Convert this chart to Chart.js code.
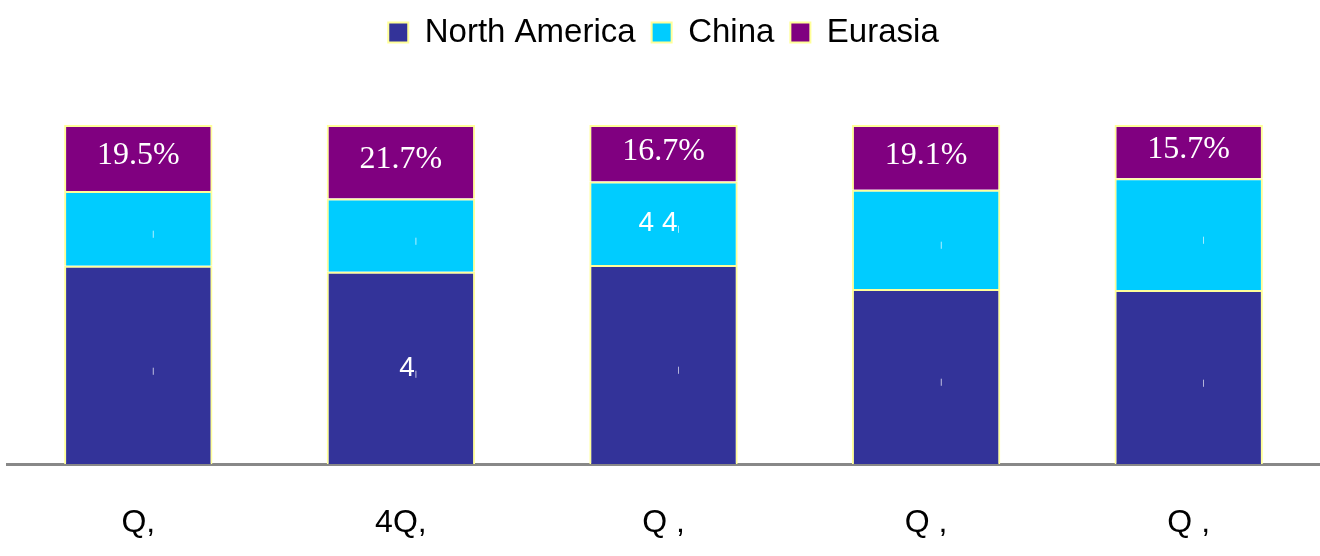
<!DOCTYPE html>
<html>
<head>
<meta charset="utf-8">
<script src="https://cdn.jsdelivr.net/npm/chart.js@4.4.1/dist/chart.umd.min.js"></script>
<style>
  html, body { margin: 0; padding: 0; background: #fff; }
  #wrap { width: 1320px; height: 556px; }
</style>
</head>
<body>
<div id="wrap"><canvas id="chart"></canvas></div>
<script>
// categories and values (share of total, %)
var quarters = ['Q,', '4Q,', 'Q ,', 'Q ,', 'Q ,'];
var northAmerica = [58.5, 56.7, 58.7, 51.6, 51.3];
var china = [22.0, 21.6, 24.6, 29.3, 33.0];
var eurasia = [19.5, 21.7, 16.7, 19.1, 15.7];

// text shown inside the segments
var eurasiaText = ['19.5%', '21.7%', '16.7%', '19.1%', '15.7%'];
var chinaText = ['', '', '4 4', '', ''];
var naText = ['', '4', '', '', ''];

var segBorder = '#FFFF99';

var segLabels = {
    id: 'segLabels',
    afterDatasetsDraw: function(chart) {
        var ctx = chart.ctx;
        chart.data.datasets.forEach(function(ds, i) {
            var meta = chart.getDatasetMeta(i);
            meta.data.forEach(function(bar, j) {
                var mid = (bar.y + bar.base) / 2;
                ctx.save();
                ctx.fillStyle = '#fff';
                if (ds.kind === 'pct') {
                    ctx.font = '32px "Liberation Serif", "Times New Roman", serif';
                    ctx.textAlign = 'center';
                    ctx.textBaseline = 'middle';
                    ctx.fillText(ds.texts[j], bar.x, mid - 2);
                } else {
                    // leftover glyph fragments
                    if (ds.texts[j]) {
                        ctx.font = '28px "Liberation Sans", Arial, sans-serif';
                        ctx.textAlign = 'right';
                        ctx.textBaseline = 'alphabetic';
                        ctx.fillText(ds.texts[j], bar.x + 14, mid + 8);
                    }
                    ctx.font = '7px "DejaVu Sans", sans-serif';
                    ctx.textAlign = 'center';
                    ctx.textBaseline = 'middle';
                    ctx.fillText('|', bar.x + 15, mid + 6);
                }
                ctx.restore();
            });
        });
    }
};

// legend needs to take up the space above the bars
var legendSpace = {
    id: 'legendSpace',
    beforeInit: function(chart) {
        var fit = chart.legend.fit;
        chart.legend.fit = function() {
            fit.call(this);
            this.height = 125;
        };
    }
};

new Chart(document.getElementById('chart'), {
    type: 'bar',
    data: {
        labels: quarters,
        datasets: [
            { label: 'North America', data: northAmerica, backgroundColor: '#333399', borderColor: segBorder, borderWidth: 2, kind: 'frag', texts: naText },
            { label: 'China', data: china, backgroundColor: '#00CCFF', borderColor: segBorder, borderWidth: 2, kind: 'frag', texts: chinaText },
            { label: 'Eurasia', data: eurasia, backgroundColor: '#800080', borderColor: segBorder, borderWidth: 2, kind: 'pct', texts: eurasiaText }
        ]
    },
    options: {
        responsive: true,
        maintainAspectRatio: false,
        animation: false,
        layout: { padding: { left: 7, right: 0, top: 0, bottom: 0 } },
        datasets: { bar: { categoryPercentage: 1, barPercentage: 0.565 } },
        scales: {
            x: {
                stacked: true,
                grid: { display: false, drawTicks: false },
                border: { display: true, color: '#888888', width: 3 },
                ticks: {
                    color: '#000',
                    padding: 40,
                    font: { family: '"Liberation Sans", Arial, sans-serif', size: 32 }
                },
                afterFit: function(scale) { scale.height = 92; }
            },
            y: {
                stacked: true,
                min: 0,
                max: 100,
                display: false
            }
        },
        plugins: {
            tooltip: { enabled: false },
            legend: {
                position: 'top',
                labels: {
                    color: '#000',
                    boxWidth: 20,
                    boxHeight: 20,
                    padding: 16,
                    font: { family: '"Liberation Sans", Arial, sans-serif', size: 33 }
                }
            }
        }
    },
    plugins: [segLabels, legendSpace]
});
</script>
</body>
</html>
